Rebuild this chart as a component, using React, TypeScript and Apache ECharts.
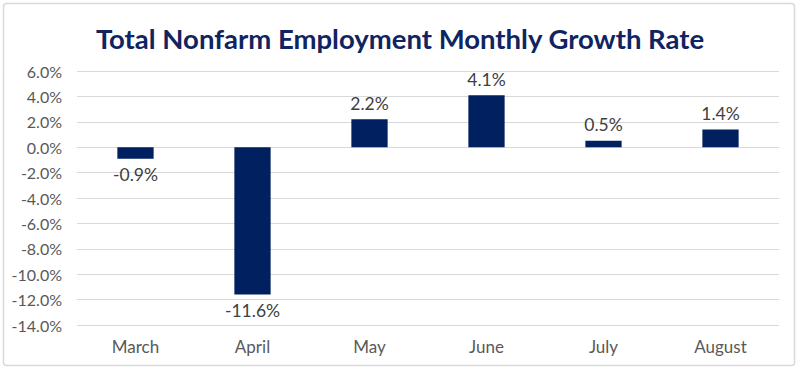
import React, { useEffect, useRef } from "react";
import * as echarts from "echarts";

const months = ["March", "April", "May", "June", "July", "August"];
const growthRate = [-0.9, -11.6, 2.2, 4.1, 0.5, 1.4];
const yTicks = { min: -14, max: 6, interval: 2 };
const titleText = "Total Nonfarm Employment Monthly Growth Rate";

export default function App() {
  const ref = useRef<HTMLDivElement>(null);
  useEffect(() => {
    if (!ref.current) return;
    const chart = echarts.init(ref.current, null, { renderer: "svg" });
    chart.setOption({
      animation: false,
      backgroundColor: "#ffffff",
      textStyle: { fontFamily: "Lato" },
      title: {
        text: titleText,
        left: "center",
        top: 19,
        textStyle: {
          fontFamily: "Lato",
          fontSize: 27.5,
          fontWeight: "bold",
          color: "#0f2460",
        },
      },
      graphic: [
        {
          type: "rect",
          shape: { x: 3.5, y: 3.5, width: 791, height: 362, r: 3 },
          style: { fill: "none", stroke: "#d9d9d9", lineWidth: 1.5 },
          silent: true,
        },
      ],
      grid: { left: 77, right: 21, top: 71, bottom: 46, containLabel: false },
      xAxis: {
        type: "category",
        data: months,
        axisLine: { show: false },
        axisTick: { show: false },
        axisLabel: {
          color: "#595959",
          fontSize: 17,
          fontFamily: "Lato",
          margin: 13,
        },
      },
      yAxis: {
        type: "value",
        min: yTicks.min,
        max: yTicks.max,
        interval: yTicks.interval,
        axisLine: { show: false },
        axisTick: { show: false },
        splitLine: { lineStyle: { color: "#d9d9d9", width: 1 } },
        axisLabel: {
          color: "#595959",
          fontSize: 16,
          fontFamily: "Lato",
          margin: 15,
          formatter: (v: number) => v.toFixed(1) + "%",
        },
      },
      series: [
        {
          type: "bar",
          data: growthRate.map((v) => ({
            value: v,
            label: { position: v < 0 ? "bottom" : "top" },
          })),
          barWidth: "31%",
          itemStyle: { color: "#002060" },
          label: {
            show: true,
            distance: 7,
            color: "#404040",
            fontSize: 17.5,
            fontFamily: "Lato",
            formatter: (p: any) => p.value.toFixed(1) + "%",
          },
        },
      ],
    });
    return () => chart.dispose();
  }, []);
  return (
    <div
      ref={ref}
      style={{ position: "fixed", left: 0, top: 0, width: 800, height: 371 }}
    />
  );
}
